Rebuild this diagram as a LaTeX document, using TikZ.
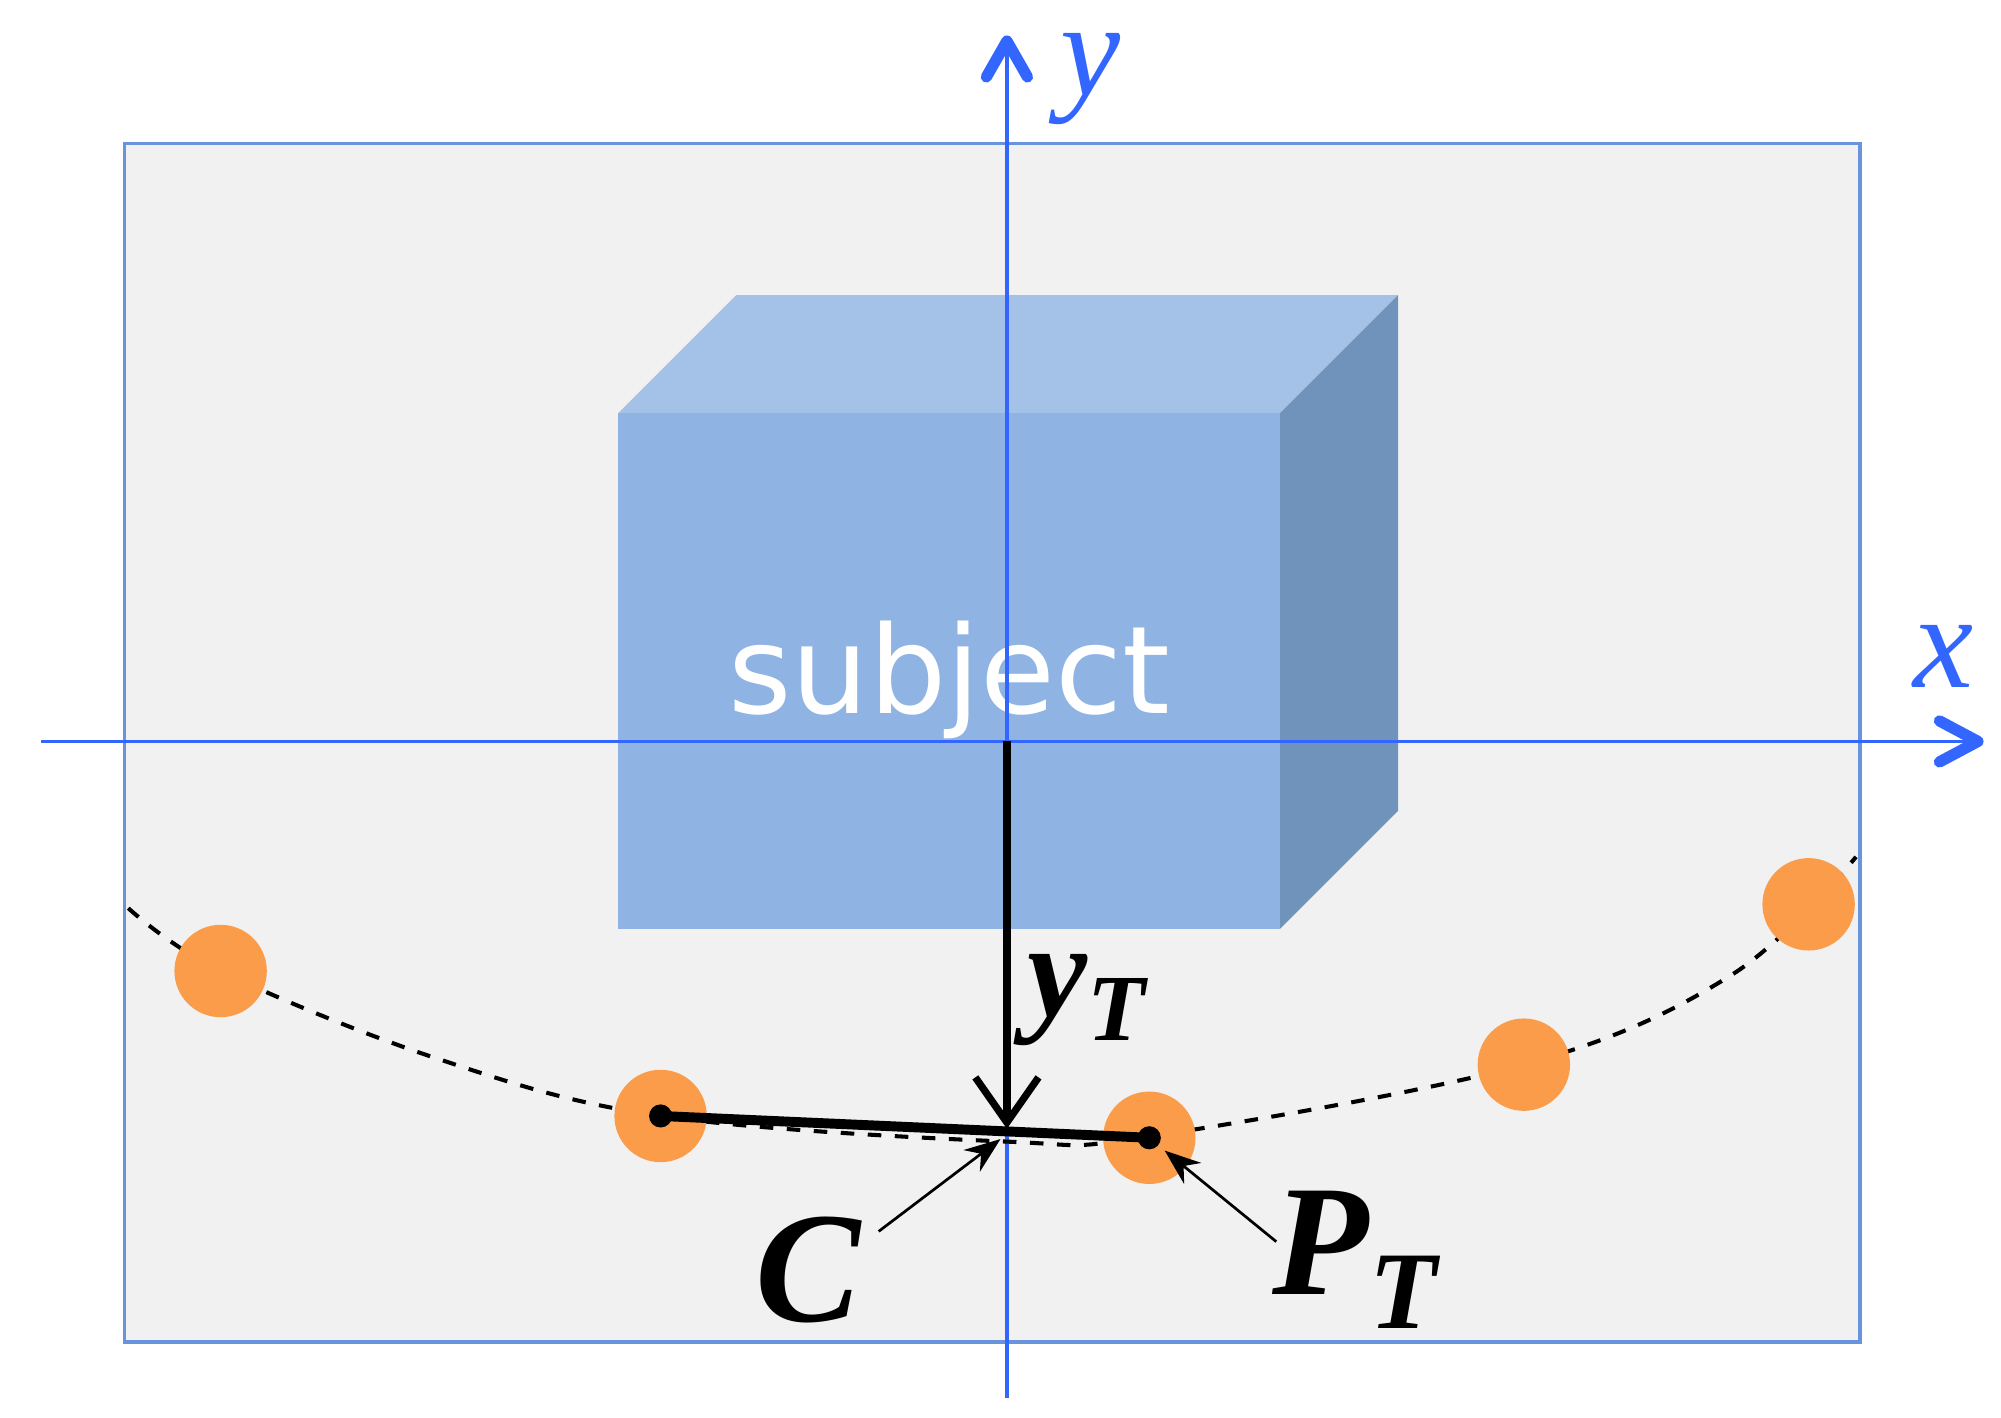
\documentclass[tikz,border=0pt]{standalone}
\usepackage{fontspec}
\setmainfont{DejaVu Sans}
\newfontfamily\serifb{Liberation Serif}
\usetikzlibrary{arrows.meta}
\definecolor{axisblue}{HTML}{3366FF}
\definecolor{frameblue}{HTML}{6A93DD}
\definecolor{orng}{HTML}{FA9C4A}
\tikzset{
  lbl/.style={font=\serifb\bfseries\itshape\fontsize{30}{30}\selectfont},
  big/.style={font=\serifb\bfseries\itshape\fontsize{35}{35}\selectfont},
  axlbl/.style={text=axisblue,font=\serifb\itshape\fontsize{30}{30}\selectfont},
  ax/.style={axisblue,line width=0.8pt},
  dot/.style={circle,fill=orng,minimum size=0.72cm,inner sep=0},
  pin/.style={-{Stealth[length=8pt]},line width=0.6pt},
}
\begin{document}
\begin{tikzpicture}[x=0.01cm,y=-0.01cm]
\useasboundingbox (0,0) rectangle (1560,1105);
\draw[frameblue,fill={rgb,255:red,241;green,241;blue,241},line width=0.8pt] (97,112) rectangle (1450,1046);
% cube
\fill[fill={rgb,255:red,164;green,194;blue,232}] (482,322)--(574,230)--(1090,230)--(998,322)--cycle;
\fill[fill={rgb,255:red,111;green,147;blue,187}] (998,322)--(1090,230)--(1090,632)--(998,724)--cycle;
\fill[fill={rgb,255:red,143;green,179;blue,226}] (482,322) rectangle (998,724);
\node[text=white,font=\fontsize{27}{27}\selectfont] (subj) at (740,530) {subject};
% axes
\coordinate (xs) at (32,578); \coordinate (xe) at (1545,578);
\coordinate (ys) at (785,1090); \coordinate (ye) at (785,28);
\draw[ax] (xs)--(xe);
\draw[ax] (ys)--(ye);
\draw[axisblue,line width=2.5pt,line cap=round,line join=round] (1512,562)--(1542,578)--(1512,594);
\draw[axisblue,line width=2.5pt,line cap=round,line join=round] (769,60)--(785,32)--(801,60);
\node[axlbl] (xl) at (1515,512) {x};
\node[axlbl] (yl) at (850,62) {y};
% dashed curve
\draw[dashed,line width=0.9pt] plot[smooth,tension=0.6] coordinates {(100,708) (172,757) (340,825) (515,870) (785,890) (896,886) (1188,830) (1350,760) (1447,668)};
% dots
\node[dot] (d1) at (172,757) {};
\node[dot] (d2) at (515,870) {};
\node[dot] (d3) at (896,887) {};
\node[dot] (d4) at (1188,830) {};
\node[dot] (d5) at (1410,705) {};
\fill (d2) circle (0.09cm);
\fill (d3) circle (0.09cm);
\draw[line width=2.2pt] (d2.center)--(d3.center);
\coordinate (o) at (785,578);
\coordinate (c) at (785,880);
\draw[line width=1.6pt,-{Straight Barb[length=10pt,width=14pt]}] (o)--(c);
\node[lbl] (yt) at (848,780) {y\textsubscript{\textit{T}}};
\coordinate (cs) at (685,960);
\coordinate (ps) at (995,968);
\draw[pin] (cs)--(780,888);
\draw[pin] (ps)--(908,897);
\node[big] (cl) at (630,990) {C};
\node[big] (pl) at (1057,982) {P\textsubscript{\textit{T}}};
\end{tikzpicture}
\end{document}
